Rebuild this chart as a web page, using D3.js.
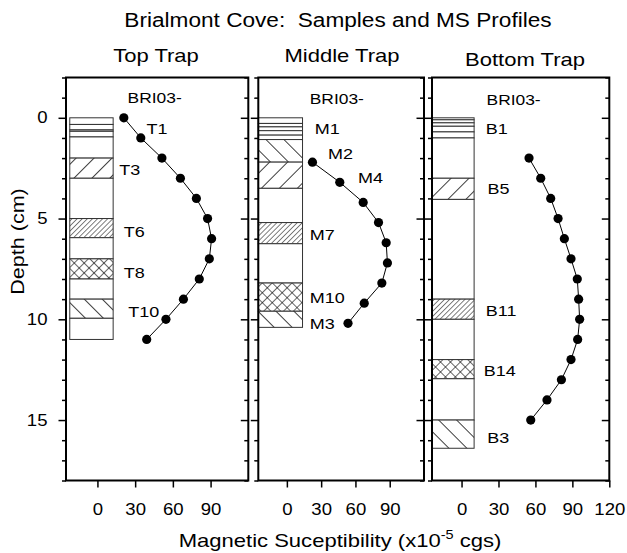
<!doctype html>
<html lang="en">
  <head>
    <meta charset="UTF-8" />
    <title>Brialmont Cove: Samples and MS Profiles</title>
    <script src="https://d3js.org/d3.v7.min.js"></script>
    <style>
      body {
        margin: 0;
        background: #ffffff;
      }
      svg text {
        font-family: 'Liberation Sans', Arial, sans-serif;
        fill: #000000;
      }
    </style>
  </head>
  <body>
    <div id="chart"></div>
    <script>
      // Magnetic susceptibility profiles (x10^-5 cgs) against depth (cm)
      const topDepth = [0, 1, 2, 3, 4, 5, 6, 7, 8, 9, 10, 11]
      const topMS = [21, 34.5, 51.3, 66, 78.7, 87.6, 90.8, 89, 81, 68.4, 54.5, 39.2]

      const midDepth = [2.2, 3.2, 4.2, 5.2, 6.2, 7.2, 8.2, 9.2, 10.2]
      const midMS = [22.4, 46.3, 66.8, 80.2, 86.9, 88, 83.1, 67.7, 53.5]

      const botDepth = [2, 3, 4, 5, 6, 7, 8, 9, 10, 11, 12, 13, 14, 15]
      const botMS = [54.8, 64.3, 72.4, 78.4, 83.5, 88.9, 94, 95.1, 95.9, 94.3, 88.9, 81.1, 69.4, 56.2]

      // Sample intervals in the core column (depth top/bottom, fill style)
      const topSamples = [
        { top: 0, bottom: 0.33, fill: 'blank' },
        { top: 0.33, bottom: 0.6, fill: 'blank' },
        { top: 0.6, bottom: 0.67, fill: 'blank' },
        { top: 0.67, bottom: 0.95, fill: 'blank' },
        { top: 0.95, bottom: 2, fill: 'blank' },
        { top: 2, bottom: 3, fill: 'wideF' },
        { top: 3, bottom: 5, fill: 'blank' },
        { top: 5, bottom: 5.95, fill: 'denseF' },
        { top: 5.95, bottom: 7, fill: 'blank' },
        { top: 7, bottom: 8, fill: 'cross' },
        { top: 8, bottom: 9, fill: 'blank' },
        { top: 9, bottom: 9.95, fill: 'wideB' },
        { top: 9.95, bottom: 11, fill: 'blank' },
      ]
      const midSamples = [
        { top: 0, bottom: 0.28, fill: 'blank' },
        { top: 0.28, bottom: 0.45, fill: 'blank' },
        { top: 0.45, bottom: 0.64, fill: 'blank' },
        { top: 0.64, bottom: 0.86, fill: 'blank' },
        { top: 0.86, bottom: 1.08, fill: 'blank' },
        { top: 1.08, bottom: 2.2, fill: 'wideB' },
        { top: 2.2, bottom: 3.5, fill: 'wideF' },
        { top: 3.5, bottom: 5.2, fill: 'blank' },
        { top: 5.2, bottom: 6.25, fill: 'denseF' },
        { top: 6.25, bottom: 8.2, fill: 'blank' },
        { top: 8.2, bottom: 9.6, fill: 'cross' },
        { top: 9.6, bottom: 10.4, fill: 'wideB' },
      ]
      const botSamples = [
        { top: 0, bottom: 0.1, fill: 'blank' },
        { top: 0.1, bottom: 0.25, fill: 'blank' },
        { top: 0.25, bottom: 0.42, fill: 'blank' },
        { top: 0.42, bottom: 0.7, fill: 'blank' },
        { top: 0.7, bottom: 1, fill: 'blank' },
        { top: 1, bottom: 3, fill: 'blank' },
        { top: 3, bottom: 4.05, fill: 'wideF' },
        { top: 4.05, bottom: 9, fill: 'blank' },
        { top: 9, bottom: 10, fill: 'denseF' },
        { top: 10, bottom: 12, fill: 'blank' },
        { top: 12, bottom: 12.95, fill: 'cross' },
        { top: 12.95, bottom: 15, fill: 'blank' },
        { top: 15, bottom: 16.4, fill: 'wideB' },
      ]

      // Sample names (placed at susceptibility / depth)
      const topLabels = [
        { text: 'BRI03-', ms: 24, depth: -1 },
        { text: 'T1', ms: 39, depth: 0.55 },
        { text: 'T3', ms: 17.4, depth: 2.58 },
        { text: 'T6', ms: 21, depth: 5.65 },
        { text: 'T8', ms: 21, depth: 7.68 },
        { text: 'T10', ms: 24.5, depth: 9.6 },
      ]
      const midLabels = [
        { text: 'BRI03-', ms: 20, depth: -0.93 },
        { text: 'M1', ms: 24.4, depth: 0.55 },
        { text: 'M2', ms: 36, depth: 1.77 },
        { text: 'M4', ms: 62.2, depth: 2.97 },
        { text: 'M7', ms: 20, depth: 5.77 },
        { text: 'M10', ms: 20, depth: 8.92 },
        { text: 'M3', ms: 20, depth: 10.2 },
      ]
      const botLabels = [
        { text: 'BRI03-', ms: 20.3, depth: -0.88 },
        { text: 'B1', ms: 19.7, depth: 0.55 },
        { text: 'B5', ms: 21, depth: 3.52 },
        { text: 'B11', ms: 19.7, depth: 9.58 },
        { text: 'B14', ms: 18, depth: 12.56 },
        { text: 'B3', ms: 20.8, depth: 15.87 },
      ]

      const depthMajor = [0, 5, 10, 15]
      const depthMinor = d3.range(-2, 19).filter((d) => d % 5 !== 0)
      const msTicks = [0, 30, 60, 90]
      const msTicksLast = [0, 30, 60, 90, 120]

      // layout
      const width = 627
      const height = 553
      const SX = 1.16 // the original font is wider than Arial
      const yScale = d3.scaleLinear().domain([-2, 18]).range([77.5, 480.5])

      const panels = [
        {
          title: 'Top Trap', titleX: 156, titleY: 62, left: 66, right: 248.3, msMin: -25,
          colLeft: -22, colRight: 12.5, ticks: msTicks,
          depth: topDepth, ms: topMS, samples: topSamples, labels: topLabels,
        },
        {
          title: 'Middle Trap', titleX: 342, titleY: 62, left: 258.3, right: 424, msMin: -25,
          colLeft: -25, colRight: 13.7, ticks: msTicks,
          depth: midDepth, ms: midMS, samples: midSamples, labels: midLabels,
        },
        {
          title: 'Bottom Trap', titleX: 525, titleY: 66, left: 432, right: 609.3, msMin: -24,
          colLeft: -24, colRight: 10.2, ticks: msTicksLast,
          depth: botDepth, ms: botMS, samples: botSamples, labels: botLabels,
        },
      ]

      const svg = d3
        .select('#chart')
        .append('svg')
        .attr('width', width)
        .attr('height', height)

      function stretchText(parent, x, y, str, size, anchor, rotate = 0) {
        return parent
          .append('text')
          .attr('transform', `translate(${x},${y}) rotate(${rotate}) scale(${SX},1)`)
          .attr('text-anchor', anchor)
          .attr('font-size', size)
          .text(str)
      }

      // Hatch patterns
      const defs = svg.append('defs')
      function hatch(id, size, angle, cross, sw) {
        const p = defs
          .append('pattern')
          .attr('id', id)
          .attr('patternUnits', 'userSpaceOnUse')
          .attr('width', size)
          .attr('height', size)
          .attr('patternTransform', `rotate(${angle})`)
        p.append('rect').attr('width', size).attr('height', size).attr('fill', '#ffffff')
        p.append('line')
          .attr('x1', 0).attr('y1', 0).attr('x2', 0).attr('y2', size)
          .attr('stroke', '#000').attr('stroke-width', sw)
        if (cross) {
          p.append('line')
            .attr('x1', 0).attr('y1', 0).attr('x2', size).attr('y2', 0)
            .attr('stroke', '#000').attr('stroke-width', sw)
        }
      }
      hatch('wideF', 12.7, 45, false, 1.5)
      hatch('denseF', 3.6, 45, false, 1)
      hatch('cross', 7, 45, true, 1.2)
      hatch('wideB', 12.7, -45, false, 1.5)
      const fillOf = (f) => (f === 'blank' ? '#ffffff' : `url(#${f})`)

      // Titles
      stretchText(svg, 338, 27, 'Brialmont Cove:\u00a0\u00a0Samples and MS Profiles', 19.5, 'middle')

      panels.forEach((p, i) => {
        const xScale = d3.scaleLinear().domain([p.msMin, 120]).range([p.left, p.right])
        const g = svg.append('g')

        stretchText(g, p.titleX, p.titleY, p.title, 19, 'middle')

        // Sample column
        g.selectAll('.sample')
          .data(p.samples)
          .enter()
          .append('rect')
          .attr('x', xScale(p.colLeft))
          .attr('y', (d) => yScale(d.top))
          .attr('width', xScale(p.colRight) - xScale(p.colLeft))
          .attr('height', (d) => yScale(d.bottom) - yScale(d.top))
          .attr('fill', (d) => fillOf(d.fill))
          .attr('stroke', '#333')
          .attr('stroke-width', 1)

        // Sample names
        p.labels.forEach((d) => {
          stretchText(g, xScale(d.ms), yScale(d.depth), d.text, d.text === 'BRI03-' ? 15 : 15.5, 'start')
            .attr('dy', '0.35em')
        })

        // MS profile
        const pts = p.depth.map((d, k) => [p.ms[k], d])
        g.append('path')
          .datum(pts)
          .attr('fill', 'none')
          .attr('stroke', '#000')
          .attr('stroke-width', 1)
          .attr('d', d3.line().x((d) => xScale(d[0])).y((d) => yScale(d[1])))
        g.selectAll('.pt')
          .data(pts)
          .enter()
          .append('circle')
          .attr('cx', (d) => xScale(d[0]))
          .attr('cy', (d) => yScale(d[1]))
          .attr('r', 4.6)
          .attr('fill', '#000')

        // Depth axes on both sides, all ticks pointing left
        ;[p.left, p.right].forEach((xPos, side) => {
          const withLabels = i === 0 && side === 0
          const major = g
            .append('g')
            .attr('transform', `translate(${xPos},0)`)
            .call(
              d3
                .axisLeft(yScale)
                .tickValues(depthMajor)
                .tickSize(7.5)
                .tickPadding(11)
                .tickFormat(withLabels ? d3.format('d') : '')
            )
          major.select('.domain').remove()
          major.selectAll('.tick line').attr('stroke', '#000').attr('stroke-width', 1.5)
          major
            .selectAll('.tick text')
            .attr('x', null)
            .attr('transform', `translate(-18.5,0) scale(${SX},1)`)
            .attr('font-size', 16)
            .attr('font-family', "'Liberation Sans', Arial, sans-serif")

          const minor = g
            .append('g')
            .attr('transform', `translate(${xPos},0)`)
            .call(d3.axisLeft(yScale).tickValues(depthMinor).tickSize(4).tickFormat(''))
          minor.select('.domain').remove()
          minor.selectAll('.tick line').attr('stroke', '#000').attr('stroke-width', 1.5)
        })

        // Susceptibility axis
        const xa = g
          .append('g')
          .attr('transform', `translate(0,${yScale.range()[1]})`)
          .call(
            d3
              .axisBottom(xScale)
              .tickValues(p.ticks)
              .tickSize(7)
              .tickPadding(16)
              .tickFormat(d3.format('d'))
          )
        xa.select('.domain').remove()
        xa.selectAll('.tick line').attr('stroke', '#000').attr('stroke-width', 1.5)
        xa.selectAll('.tick text')
          .attr('transform', `scale(${SX},1)`)
          .attr('font-size', 16)
          .attr('font-family', "'Liberation Sans', Arial, sans-serif")

        // Frame
        g.append('rect')
          .attr('x', p.left)
          .attr('y', yScale.range()[0])
          .attr('width', p.right - p.left)
          .attr('height', yScale.range()[1] - yScale.range()[0])
          .attr('fill', 'none')
          .attr('stroke', '#000')
          .attr('stroke-width', 2)
      })

      // Axis titles
      stretchText(svg, 24, 241.5, 'Depth (cm)', 18.6, 'middle', -90)

      const xt = stretchText(svg, 340, 546.5, 'Magnetic Suceptibility (x10', 19, 'middle')
      xt.append('tspan').attr('font-size', 12.5).attr('dy', -8).text('-5')
      xt.append('tspan').attr('dy', 8).text(' cgs)')
    </script>
  </body>
</html>
